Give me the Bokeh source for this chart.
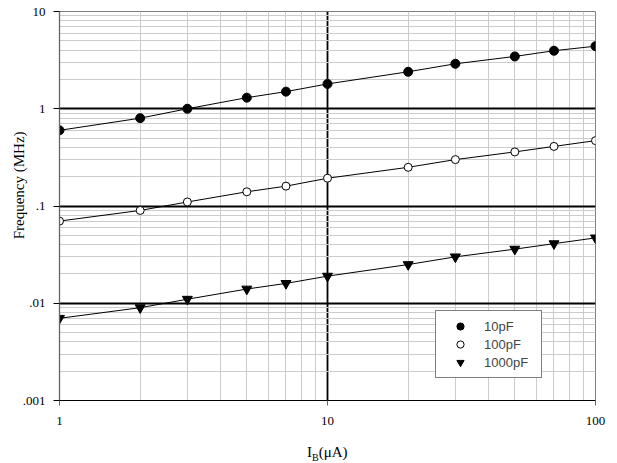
from bokeh.plotting import figure
from bokeh.layouts import column
from bokeh.models import FixedTicker, Legend, LegendItem, Range1d, Div
from bokeh.embed import file_html
from bokeh.resources import INLINE

# ---- data ----
ib = [1, 2, 3, 5, 7, 10, 20, 30, 50, 70, 100]
f_10pf = [0.60, 0.80, 1.0, 1.3, 1.5, 1.8, 2.4, 2.9, 3.45, 3.95, 4.4]
f_100pf = [0.070, 0.090, 0.110, 0.140, 0.160, 0.193, 0.250, 0.300, 0.360, 0.410, 0.470]
f_1000pf = [0.0070, 0.0090, 0.0110, 0.0140, 0.0160, 0.0190, 0.0250, 0.0300, 0.0360, 0.0410, 0.0470]
series_names = ["10pF", "100pF", "1000pF"]

x_ticks = [1, 10, 100]
x_tick_labels = ["1", "10", "100"]
y_ticks = [0.001, 0.01, 0.1, 1, 10]
y_tick_labels = [".001", ".01", ".1", "1", "10"]

x_minor = [k * 10 ** e for e in (0, 1) for k in range(2, 10)]
y_minor = [k * 10.0 ** e for e in (-3, -2, -1, 0) for k in range(2, 10)]

SERIF = "Liberation Serif"
SANS = "Liberation Sans"

p = figure(
    x_axis_type="log", y_axis_type="log",
    x_range=Range1d(1, 100), y_range=Range1d(0.001, 10),
    frame_width=536, frame_height=389,
    min_border_left=59, min_border_right=22, min_border_top=11, min_border_bottom=30,
    output_backend="svg", toolbar_location=None,
    background_fill_color="white", border_fill_color="white",
)
p.outline_line_color = "#808080"
p.outline_line_width = 1

# axes
p.xaxis.ticker = FixedTicker(ticks=x_ticks, minor_ticks=[])
p.yaxis.ticker = FixedTicker(ticks=y_ticks, minor_ticks=[])
p.xaxis.major_label_overrides = {float(t): s for t, s in zip(x_ticks, x_tick_labels)}
p.yaxis.major_label_overrides = {float(t): s for t, s in zip(y_ticks, y_tick_labels)}
for ax in (p.xaxis[0], p.yaxis[0]):
    ax.major_label_text_font = SERIF
    ax.major_label_text_font_size = "13px"
    ax.major_label_text_color = "black"
    ax.major_tick_in = 0
    ax.minor_tick_line_color = None
p.xaxis.major_label_standoff = 11
p.yaxis.major_label_standoff = 8
p.xaxis.major_tick_out = 5
p.yaxis.major_tick_out = 6
p.xaxis.axis_line_color = "black"
p.xaxis.major_tick_line_color = "#666666"
p.yaxis.axis_line_color = "#666666"
p.yaxis.axis_line_width = 1.3
p.yaxis.major_tick_line_color = "black"

p.yaxis.axis_label = "\u00a0" * 11 + "Frequency (MHz)"
p.yaxis.axis_label_text_font = SERIF
p.yaxis.axis_label_text_font_size = "15px"
p.yaxis.axis_label_text_font_style = "normal"
p.yaxis.axis_label_text_color = "black"
p.yaxis.axis_label_standoff = -7

# grids
p.xgrid.ticker = FixedTicker(ticks=[10], minor_ticks=x_minor)
p.ygrid.ticker = FixedTicker(ticks=[0.01, 0.1, 1], minor_ticks=y_minor)
for g in (p.xgrid[0], p.ygrid[0]):
    g.grid_line_color = "black"
    g.grid_line_width = 1.8
    g.grid_line_alpha = 1.0
    g.minor_grid_line_color = "#cccccc"
    g.minor_grid_line_width = 1

# series
items = []
styles = [
    dict(marker="circle", fill_color="black", size=9),
    dict(marker="circle", fill_color="white", size=8),
    dict(marker="inverted_triangle", fill_color="black", size=10),
]
for name, ys, st in zip(series_names, [f_10pf, f_100pf, f_1000pf], styles):
    p.line(ib, ys, line_color="black", line_width=1)
    r = p.scatter(ib, ys, marker=st["marker"], size=st["size"],
                  fill_color=st["fill_color"], line_color="black", line_width=1)
    items.append(LegendItem(label=name, renderers=[r]))

legend = Legend(
    items=items, location=(376, 22), margin=0, padding=6, spacing=0,
    glyph_width=36, glyph_height=18, label_height=18, label_width=51,
    label_standoff=6, label_text_font=SANS, label_text_font_size="13px",
    label_text_baseline="middle",
    border_line_color="black", border_line_width=1,
    background_fill_color="white", background_fill_alpha=1.0,
)
p.add_layout(legend, "center")

# x-axis title with subscript, as real HTML text
xlabel = Div(
    text=('<div style="padding-left:302px; padding-top:10px; '
          "font-family:'Liberation Serif'; font-size:15px; line-height:15px; color:black; "
          'white-space:nowrap;">I<span style="font-size:10px; vertical-align:-4px;">B</span>'
          '(\u03bcA)</div>'),
    width=617, height=33,
)

layout = column(p, xlabel, spacing=0)
open("out.html", "w").write(file_html(layout, INLINE))
